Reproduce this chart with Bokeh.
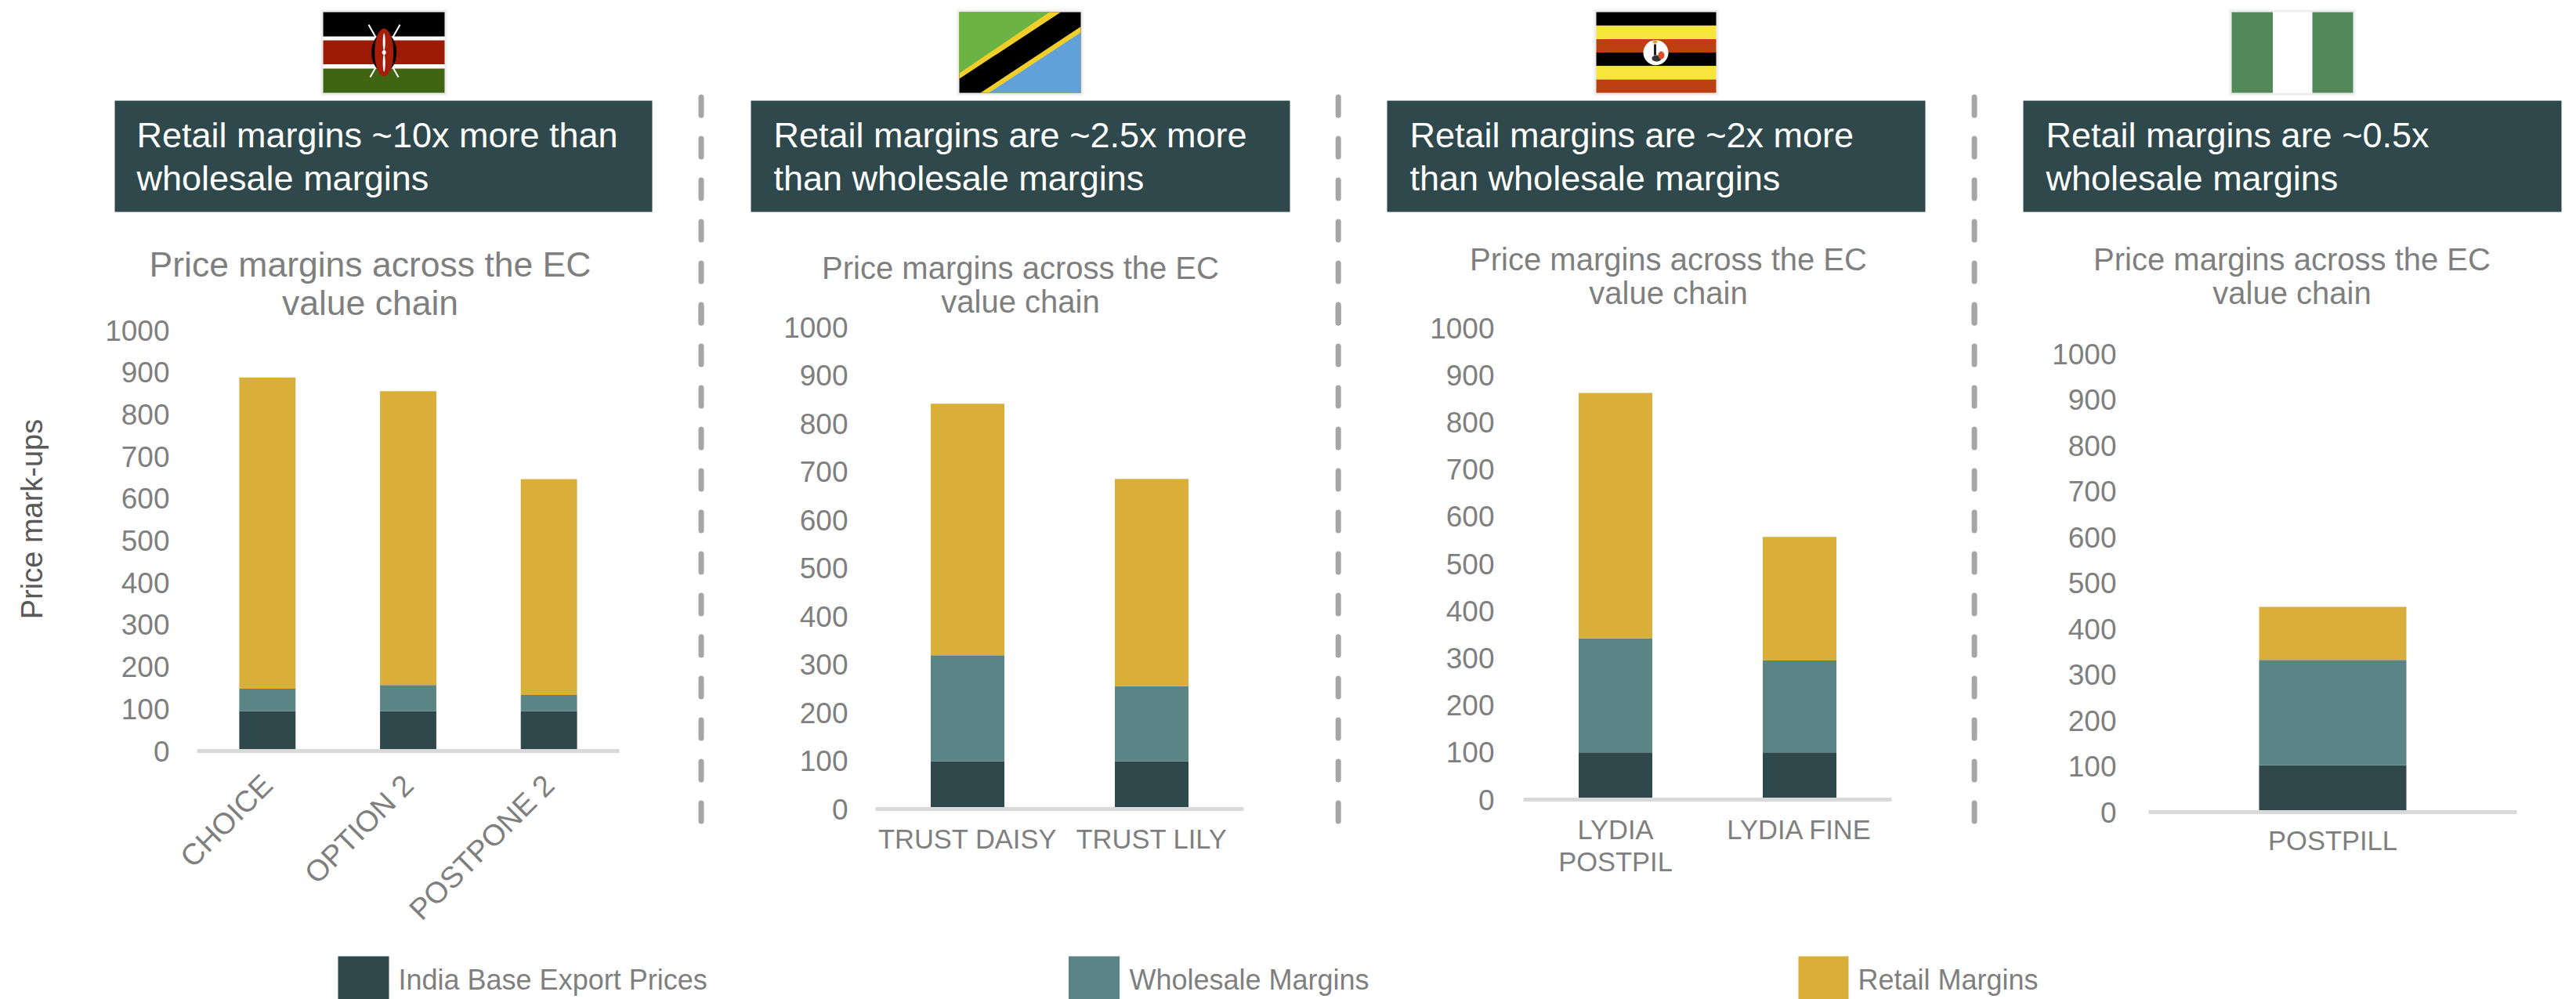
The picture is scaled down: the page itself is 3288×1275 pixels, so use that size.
import numpy as np
from bokeh.plotting import figure
from bokeh.layouts import column, row
from bokeh.models import Range1d, FactorRange, FixedTicker, ColumnDataSource
from bokeh.core.properties import value
from bokeh.embed import file_html
from bokeh.resources import INLINE

FONT = "Liberation Sans"
GREY = "#7F7F7F"
DARK, TEAL, GOLD = "#2F484C", "#5B8486", "#D9AF39"

series_names = ["India Base Export Prices", "Wholesale Margins", "Retail Margins"]
y_ticks = [0, 100, 200, 300, 400, 500, 600, 700, 800, 900, 1000]
chart_title = ["Price margins across the EC", "value chain"]
y_title = "Price mark-ups"

cats_kenya = ["CHOICE", "OPTION 2", "POSTPONE 2"]
base_kenya = [95, 95, 95]
whole_kenya = [53, 62, 38]
retail_kenya = [740, 698, 513]

cats_tanzania = ["TRUST DAISY", "TRUST LILY"]
base_tanzania = [99, 99]
whole_tanzania = [220, 156]
retail_tanzania = [522, 430]

cats_uganda = ["LYDIA\nPOSTPIL", "LYDIA FINE"]
base_uganda = [100, 100]
whole_uganda = [242, 195]
retail_uganda = [520, 262]

cats_nigeria = ["POSTPILL"]
base_nigeria = [102]
whole_nigeria = [230]
retail_nigeria = [116]

# The top canvas overlaps the row of charts, whose backgrounds are transparent.
TOP_H, ROW_TOP, ROW_BOTTOM, PAGE_H, PAGE_W = 416, 390, 1200, 1275, 3288

PANELS = [
    dict(cats=cats_kenya, base=base_kenya, whole=whole_kenya, retail=retail_kenya,
         col=(70, 880), frame=(251, 790, 421, 957.5), standoff=29, xstand=31, xsize=38, orient=np.pi/4,
         header=["Retail margins ~10x more than", "wholesale margins"],
         hbox=(146, 832), hx=174, title_c=472, title_y=(337, 386), title_size=44.5),
    dict(cats=cats_tanzania, base=base_tanzania, whole=whole_tanzania, retail=retail_tanzania,
         col=(910, 1695), frame=(1117, 1587, 417, 1032), standoff=29, xstand=13, xsize=34.5, orient="horizontal",
         header=["Retail margins are ~2.5x more", "than wholesale margins"],
         hbox=(958, 1646), hx=987, title_c=1302, title_y=(341, 384), title_size=40),
    dict(cats=cats_uganda, base=base_uganda, whole=whole_uganda, retail=retail_uganda,
         col=(1720, 2505), frame=(1944.5, 2414, 418, 1019.5), standoff=31, xstand=13, xsize=34.5, orient="horizontal",
         header=["Retail margins are ~2x more", "than wholesale margins"],
         hbox=(1770, 2457), hx=1799, title_c=2129, title_y=(330, 373), title_size=40),
    dict(cats=cats_nigeria, base=base_nigeria, whole=whole_nigeria, retail=retail_nigeria,
         col=(2535, 3288), frame=(2742, 3212, 451, 1035.7), standoff=35, xstand=11, xsize=34.5, orient="horizontal",
         header=["Retail margins are ~0.5x", "wholesale margins"],
         hbox=(2582, 3269), hx=2611, title_c=2925, title_y=(330, 373), title_size=40),
]


def canvas(x0, x1, y0, y1, clear=False):
    """A bare figure whose frame fills it and whose data units are page pixels."""
    f = figure(width=int(x1 - x0), height=int(y1 - y0), output_backend="svg", toolbar_location=None,
               x_range=Range1d(x0, x1), y_range=Range1d(y1, y0), min_border=0, frame_align=False,
               outline_line_color=None, tools="", x_axis_location=None, y_axis_location=None)
    f.grid.visible = False
    if clear:
        f.background_fill_color = None
        f.border_fill_color = None
    return f


top = canvas(0, PAGE_W, 0, TOP_H)


def box(l, r, t, b, color):
    top.quad(left=[l], right=[r], top=[t], bottom=[b], fill_color=color, line_color=None)


def poly(xs, ys, color):
    top.patch(x=list(xs), y=list(ys), fill_color=color, line_color=None)


def ell(cx, cy, rx, ry, color):
    t = np.linspace(0, 2 * np.pi, 40)
    poly(cx + rx * np.cos(t), cy + ry * np.sin(t), color)


def stroke(x0, y0, x1, y1, color, w=2):
    top.segment(x0=[x0], y0=[y0], x1=[x1], y1=[y1], line_color=color, line_width=w)


def write(f, x, y, s, size, color, align="left", angle=0.0, baseline="middle"):
    f.text(x=[x], y=[y], text=[s], text_font=value(FONT), text_font_size=f"{size}px", text_color=color,
           text_align=align, text_baseline=baseline, angle=angle)


def flag_kenya():
    box(409, 570, 12, 121, "#EEEEEE")
    box(412, 567, 15, 118, "#FFFFFF")
    box(412, 567, 15, 46, "#000000")
    box(412, 567, 51, 81.5, "#9B1B05")
    box(412, 567, 87, 118, "#3F6512")
    stroke(470, 31, 508, 98, "#FFFFFF")
    stroke(510, 31, 472, 98, "#FFFFFF")
    ell(489.7, 66.5, 16, 25, "#000000")
    ell(489.7, 66.5, 12, 30.5, "#A61E0A")
    ell(489.7, 53, 1.5, 11, "#FFFFFF")
    ell(489.7, 80, 1.5, 11, "#FFFFFF")
    ell(489.7, 66.5, 2.5, 3, "#FFFFFF")


def flag_tanzania():
    box(1221, 1382, 12, 121, "#EEEEEE")
    box(1224, 1379, 15, 118, "#000000")
    poly([1224, 1353.5, 1224], [15, 15, 100], "#F2CE2B")
    poly([1224, 1339, 1224], [15, 15, 93], "#6BB344")
    poly([1379, 1379, 1251], [33.5, 118, 118], "#F2CE2B")
    poly([1379, 1379, 1262], [41, 118, 118], "#61A0D8")


def flag_uganda():
    box(2034, 2193, 12, 121, "#EEEEEE")
    cols = ["#000000", "#F6E53A", "#BC3F12", "#000000", "#F6E53A", "#BC3F12"]
    edges = [15, 32.2, 49.4, 66.6, 83.8, 101, 118]
    for i, c in enumerate(cols):
        box(2037, 2190, edges[i], edges[i + 1], c)
    ell(2113, 66.7, 16, 16, "#FFFFFF")
    stroke(2112, 56, 2112, 70, "#222222", 3)
    ell(2114, 74, 6, 4, "#333333")
    ell(2120, 70, 4, 5, "#D9502A")
    ell(2112, 53, 3, 2, "#E0A020")


def flag_nigeria():
    box(2845, 3006, 12, 121, "#EEEEEE")
    box(2848, 3003, 15, 118, "#FFFFFF")
    box(2848, 2900.5, 15, 118, "#52885A")
    box(2951, 3003, 15, 118, "#52885A")


for fn in (flag_kenya, flag_tanzania, flag_uganda, flag_nigeria):
    fn()

for d in PANELS:
    box(d["hbox"][0], d["hbox"][1], 128, 270, DARK)
    write(top, d["hx"], 172, d["header"][0], 45, "#FFFFFF")
    write(top, d["hx"], 226.5, d["header"][1], 45, "#FFFFFF")
    write(top, d["title_c"], d["title_y"][0], chart_title[0], d["title_size"], GREY, align="center")
    write(top, d["title_c"], d["title_y"][1], chart_title[1], d["title_size"], GREY, align="center")

DASH_X = [894.5, 1707.7, 2519.6]
dash_y0 = [123.5 + 53 * k for k in range(18)]
dash_y1 = [y + 23 for y in dash_y0]


def dashes(f, x):
    f.segment(x0=[x] * len(dash_y0), y0=dash_y0, x1=[x] * len(dash_y0), y1=dash_y1,
              line_color="#A6A6A6", line_width=7, line_cap="round")


for x in DASH_X:
    dashes(top, x)


def panel(d):
    cl, cr = d["col"]
    fl, fr, ft, fb = d["frame"]
    p = figure(width=int(cr - cl), height=ROW_BOTTOM - ROW_TOP, output_backend="svg", toolbar_location=None,
               x_range=FactorRange(factors=d["cats"]), y_range=Range1d(0, 1000),
               min_border_left=int(round(fl - cl)), min_border_right=int(round(cr - fr)),
               min_border_top=int(round(ft - ROW_TOP)), min_border_bottom=int(round(ROW_BOTTOM - fb)),
               frame_align=False, background_fill_color=None, border_fill_color=None,
               outline_line_color=None, tools="")
    p.grid.visible = False
    src = ColumnDataSource(dict(cat=d["cats"], base=d["base"], whole=d["whole"], retail=d["retail"]))
    p.vbar_stack(["base", "whole", "retail"], x="cat", width=0.4, source=src,
                 color=[DARK, TEAL, GOLD], line_color=None)

    ax = p.yaxis[0]
    ax.ticker = FixedTicker(ticks=y_ticks)
    ax.axis_line_color = None
    ax.major_tick_line_color = None
    ax.minor_tick_line_color = None
    ax.major_label_standoff = d["standoff"]
    ax.major_label_text_font = FONT
    ax.major_label_text_font_size = "37px"
    ax.major_label_text_color = GREY

    xa = p.xaxis[0]
    xa.axis_line_color = "#D9D9D9"
    xa.axis_line_width = 5
    xa.major_tick_line_color = None
    xa.minor_tick_line_color = None
    xa.major_label_standoff = d["xstand"]
    xa.major_label_text_font = FONT
    xa.major_label_text_font_size = f'{d["xsize"]}px'
    xa.major_label_text_color = GREY
    xa.major_label_text_line_height = 1.1
    xa.major_label_orientation = d["orient"]
    return p


ylab = canvas(0, PANELS[0]["col"][0], ROW_TOP, ROW_BOTTOM, clear=True)
write(ylab, 40.5, 662, y_title, 38, "#595959", align="center", angle=np.pi / 2, baseline="alphabetic")

strips = []
for k, x in enumerate(DASH_X):
    s = canvas(PANELS[k]["col"][1], PANELS[k + 1]["col"][0], ROW_TOP, ROW_BOTTOM, clear=True)
    dashes(s, x)
    strips.append(s)

children = [ylab]
for k, d in enumerate(PANELS):
    children.append(panel(d))
    if k < 3:
        children.append(strips[k])

legend_left = [431, 1363.5, 2295]
legend_right = [496, 1428.6, 2359]
legend_text_x = [508, 1441, 2371]

leg = canvas(0, PAGE_W, ROW_BOTTOM, PAGE_H)
leg.quad(left=legend_left, right=legend_right, top=[1220] * 3, bottom=[1275] * 3,
         fill_color=[DARK, TEAL, GOLD], line_color=None)
leg.text(x=legend_text_x, y=[1249.5] * 3, text=series_names, text_font=value(FONT), text_font_size="36px",
         text_color=GREY, text_baseline="middle", text_align="left")

charts = row(*children, spacing=0, margin=(ROW_TOP - TOP_H, 0, 0, 0))
layout = column(top, charts, leg, spacing=0)
open("out.html", "w").write(file_html(layout, INLINE))
